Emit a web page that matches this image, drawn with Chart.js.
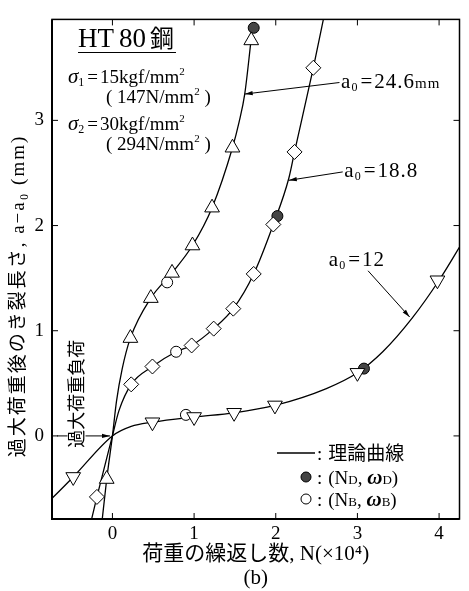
<!DOCTYPE html>
<html lang="ja">
<head>
<meta charset="utf-8">
<title>HT80鋼 過大荷重後のき裂長さ</title>
<script src="https://cdn.jsdelivr.net/npm/chart.js@4.4.0/dist/chart.umd.min.js"></script>
<style>
  html, body { margin: 0; padding: 0; background: #fff; }
</style>
</head>
<body>
<canvas id="crackChart" width="469" height="591"></canvas>
<script>
// Graduations des axes
const xTicks = [0, 1, 2, 3, 4];
const yTicks = [0, 1, 2, 3];

// Points mesurés : N (x10^4 cycles) et a - a0 (mm)
const triUpN = [-0.07, 0.22, 0.47, 0.73, 0.98, 1.22, 1.47, 1.70];
const triUpA = [-0.41, 0.93, 1.31, 1.55, 1.81, 2.17, 2.74, 3.76];
const diamondN = [-0.19, 0.23, 0.49, 0.97, 1.24, 1.48, 1.73, 1.97, 2.23, 2.46];
const diamondA = [-0.58, 0.49, 0.66, 0.86, 1.02, 1.21, 1.54, 2.01, 2.70, 3.50];
const triDownN = [-0.48, 0.49, 1.00, 1.49, 1.99, 3.00, 3.98];
const triDownA = [-0.39, 0.13, 0.18, 0.22, 0.29, 0.60, 1.48];
const openN = [0.67, 0.78, 0.90];     // (NB, ωB)
const openA = [1.46, 0.80, 0.20];
const filledN = [1.73, 2.02, 3.08];   // (ND, ωD)
const filledA = [3.88, 2.09, 0.64];

// Courbes théoriques
const curve246N = [-0.14, -0.07, 0, 0.05, 0.12, 0.22, 0.47, 0.73, 0.98, 1.22, 1.47, 1.55, 1.62, 1.70];
const curve246A = [-0.90, -0.41, 0, 0.33, 0.64, 0.93, 1.31, 1.55, 1.81, 2.17, 2.74, 2.98, 3.25, 3.78];
const curve188N = [-0.27, -0.19, 0, 0.08, 0.23, 0.49, 0.78, 0.97, 1.24, 1.48, 1.73, 1.97, 2.16, 2.23, 2.46, 2.62];
const curve188A = [-0.84, -0.58, 0, 0.24, 0.49, 0.66, 0.80, 0.86, 1.02, 1.21, 1.54, 2.01, 2.45, 2.70, 3.50, 4.10];
const curve12N = [-0.85, -0.48, 0, 0.23, 0.49, 1.00, 1.49, 1.99, 2.62, 3.00, 3.31, 3.67, 4.00, 4.30];
const curve12A = [-0.68, -0.39, 0, 0.09, 0.13, 0.18, 0.22, 0.29, 0.45, 0.60, 0.80, 1.12, 1.48, 1.86];

const SERIF = '"Liberation Serif", "Noto Sans CJK JP", serif';
const CJK = '"Noto Sans CJK JP", sans-serif';

function toPoints(xs, ys) {
  return xs.map((v, i) => ({ x: v, y: ys[i] }));
}

// Texte avec indices / exposants
function drawRich(ctx, x, y, parts) {
  let cx = x;
  parts.forEach(p => {
    ctx.font = (p.style || '') + ' ' + p.size + 'px ' + (p.family || SERIF);
    ctx.fillText(p.text, cx, y + (p.dy || 0));
    cx += ctx.measureText(p.text).width + (p.gap || 0);
  });
  return cx;
}

function arrow(ctx, x1, y1, x2, y2) {
  ctx.beginPath();
  ctx.moveTo(x1, y1);
  ctx.lineTo(x2, y2);
  ctx.stroke();
  const ang = Math.atan2(y2 - y1, x2 - x1);
  const L = 8, W = 2.2;
  ctx.beginPath();
  ctx.moveTo(x2, y2);
  ctx.lineTo(x2 - L * Math.cos(ang) + W * Math.sin(ang), y2 - L * Math.sin(ang) - W * Math.cos(ang));
  ctx.lineTo(x2 - L * Math.cos(ang) - W * Math.sin(ang), y2 - L * Math.sin(ang) + W * Math.cos(ang));
  ctx.closePath();
  ctx.fill();
}

function a0Label(ctx, x, y, value, unit) {
  ctx.letterSpacing = '1px';
  drawRich(ctx, x, y, [
    { text: 'a', size: 21 },
    { text: '0', size: 12, dy: 3, gap: 2 },
    { text: '=', size: 21, gap: 1 },
    { text: value, size: 21 },
    { text: unit || '', size: 15 }
  ]);
  ctx.letterSpacing = '0px';
}

// Cadre, graduations intérieures et annotations
const decorPlugin = {
  id: 'decor',
  afterDraw(chart) {
    const { ctx, chartArea: area, scales: { x, y } } = chart;
    const px = v => x.getPixelForValue(v);
    const py = v => y.getPixelForValue(v);
    ctx.save();
    ctx.strokeStyle = '#000';
    ctx.fillStyle = '#000';

    // cadre
    ctx.lineWidth = 1.5;
    ctx.strokeRect(area.left, area.top, area.right - area.left, area.bottom - area.top);
    ctx.lineWidth = 2;
    ctx.beginPath();
    ctx.moveTo(area.left, area.top);
    ctx.lineTo(area.left, area.bottom);
    ctx.lineTo(area.right, area.bottom);
    ctx.stroke();

    // graduations vers l'intérieur
    ctx.lineWidth = 1;
    ctx.beginPath();
    xTicks.forEach(v => {
      ctx.moveTo(px(v), area.bottom); ctx.lineTo(px(v), area.bottom - 6);
      ctx.moveTo(px(v), area.top); ctx.lineTo(px(v), area.top + 6);
    });
    yTicks.forEach(v => {
      ctx.moveTo(area.left, py(v)); ctx.lineTo(area.left + 6, py(v));
      ctx.moveTo(area.right, py(v)); ctx.lineTo(area.right - 6, py(v));
    });
    ctx.stroke();

    // titre de l'axe vertical
    ctx.save();
    ctx.translate(19, 296);
    ctx.rotate(-Math.PI / 2);
    ctx.textAlign = 'center';
    ctx.textBaseline = 'middle';
    ctx.font = '19px ' + SERIF;
    ctx.letterSpacing = '2px';
    ctx.fillText('過大荷重後のき裂長さ, a−a₀ (mm)', 0, 0);
    ctx.restore();

    // titre du matériau
    ctx.textBaseline = 'alphabetic';
    ctx.textAlign = 'left';
    const endTitle = drawRich(ctx, 78, 47, [
      { text: 'HT', size: 27, gap: 5 },
      { text: '80', size: 27, gap: 4 },
      { text: '鋼', size: 24, family: CJK }
    ]);
    ctx.lineWidth = 1;
    ctx.beginPath();
    ctx.moveTo(78, 52.5);
    ctx.lineTo(endTitle + 2, 52.5);
    ctx.stroke();

    // contraintes
    drawRich(ctx, 68, 83, [
      { text: 'σ', size: 21, style: 'italic' },
      { text: '1', size: 12, dy: 3, gap: 3 },
      { text: '=', size: 19, gap: 2 },
      { text: '15kgf/mm', size: 19 },
      { text: '2', size: 11, dy: -8 }
    ]);
    drawRich(ctx, 106, 103, [
      { text: '( ', size: 19 },
      { text: '147N/mm', size: 19 },
      { text: '2', size: 11, dy: -8 },
      { text: ' )', size: 19 }
    ]);
    drawRich(ctx, 68, 130, [
      { text: 'σ', size: 21, style: 'italic' },
      { text: '2', size: 12, dy: 3, gap: 3 },
      { text: '=', size: 19, gap: 2 },
      { text: '30kgf/mm', size: 19 },
      { text: '2', size: 11, dy: -8 }
    ]);
    drawRich(ctx, 106, 150, [
      { text: '( ', size: 19 },
      { text: '294N/mm', size: 19 },
      { text: '2', size: 11, dy: -8 },
      { text: ' )', size: 19 }
    ]);

    // étiquettes a0 avec flèches
    ctx.lineWidth = 1;
    a0Label(ctx, px(2.80), py(3.31), '24.6', 'mm');
    arrow(ctx, px(2.78), py(3.36), px(1.62), py(3.25));
    a0Label(ctx, px(2.84), py(2.46), '18.8');
    arrow(ctx, px(2.82), py(2.51), px(2.16), py(2.43));
    a0Label(ctx, px(2.65), py(1.62), '12');
    arrow(ctx, px(3.13), py(1.57), px(3.64), py(1.13));

    // repère de surcharge
    arrow(ctx, area.left + 5, py(0), px(-0.03), py(0));
    ctx.save();
    ctx.translate(px(-0.44), py(0.40));
    ctx.rotate(-Math.PI / 2);
    ctx.font = '18px ' + CJK;
    const t = '過大荷重負荷';
    const w = ctx.measureText(t).width;
    ctx.fillStyle = '#fff';
    ctx.fillRect(-w / 2 - 1, -9, w + 2, 18);
    ctx.fillStyle = '#000';
    ctx.textAlign = 'center';
    ctx.textBaseline = 'middle';
    ctx.fillText(t, 0, 0);
    ctx.restore();

    // légende
    ctx.textAlign = 'left';
    ctx.textBaseline = 'alphabetic';
    ctx.lineWidth = 1.3;
    ctx.beginPath();
    ctx.moveTo(277, 453);
    ctx.lineTo(315, 453);
    ctx.stroke();
    drawRich(ctx, 317, 460, [
      { text: ':', size: 19, gap: 6 },
      { text: '理論曲線', size: 19, family: CJK }
    ]);
    ctx.lineWidth = 1;
    ctx.beginPath();
    ctx.arc(306, 477, 5, 0, Math.PI * 2);
    ctx.fillStyle = '#444';
    ctx.fill();
    ctx.stroke();
    ctx.fillStyle = '#000';
    drawRich(ctx, 317, 484, [
      { text: ':', size: 19, gap: 6 },
      { text: '(N', size: 19 },
      { text: 'D', size: 13 },
      { text: ', ', size: 19 },
      { text: 'ω', size: 21, style: 'italic bold' },
      { text: 'D', size: 13 },
      { text: ')', size: 19 }
    ]);
    ctx.beginPath();
    ctx.arc(306, 499, 5, 0, Math.PI * 2);
    ctx.stroke();
    drawRich(ctx, 317, 506, [
      { text: ':', size: 19, gap: 6 },
      { text: '(N', size: 19 },
      { text: 'B', size: 13 },
      { text: ', ', size: 19 },
      { text: 'ω', size: 21, style: 'italic bold' },
      { text: 'B', size: 13 },
      { text: ')', size: 19 }
    ]);
    ctx.restore();
  }
};

const lineStyle = {
  type: 'line',
  showLine: true,
  borderColor: '#000',
  borderWidth: 1.3,
  pointRadius: 0,
  fill: false,
  cubicInterpolationMode: 'monotone',
  order: 5
};
const markStyle = {
  showLine: false,
  borderColor: '#000',
  borderWidth: 1,
  backgroundColor: '#fff',
  order: 1
};

new Chart(document.getElementById('crackChart'), {
  type: 'scatter',
  data: {
    datasets: [
      { ...markStyle, label: 'a0=24.6', data: toPoints(triUpN, triUpA), pointStyle: 'triangle', pointRadius: 8.5 },
      { ...markStyle, label: 'a0=18.8', data: toPoints(diamondN, diamondA), pointStyle: 'rectRot', pointRadius: 7.5 },
      { ...markStyle, label: 'a0=12', data: toPoints(triDownN, triDownA), pointStyle: 'triangle', pointRotation: 180, pointRadius: 8.5 },
      { ...markStyle, label: '(NB, ωB)', data: toPoints(openN, openA), pointStyle: 'circle', pointRadius: 5.5 },
      { ...markStyle, label: '(ND, ωD)', data: toPoints(filledN, filledA), pointStyle: 'circle', pointRadius: 5.5, backgroundColor: '#444' },
      { ...lineStyle, label: '理論曲線 24.6', data: toPoints(curve246N, curve246A) },
      { ...lineStyle, label: '理論曲線 18.8', data: toPoints(curve188N, curve188A) },
      { ...lineStyle, label: '理論曲線 12', data: toPoints(curve12N, curve12A) }
    ]
  },
  options: {
    responsive: false,
    animation: false,
    layout: { padding: { left: 0, top: 12, right: 4, bottom: 0 } },
    plugins: {
      legend: { display: false },
      tooltip: { enabled: false }
    },
    scales: {
      x: {
        type: 'linear',
        min: -0.74,
        max: 4.25,
        afterBuildTicks: scale => { scale.ticks = xTicks.map(v => ({ value: v })); },
        afterFit: scale => { scale.height = 72; },
        grid: { display: false, drawTicks: false },
        border: { display: false },
        ticks: { color: '#000', padding: 4, font: { family: SERIF, size: 19 } },
        title: {
          display: true,
          text: ['荷重の繰返し数, N(×10⁴)', '(b)'],
          color: '#000',
          padding: { top: 0, bottom: 0 },
          font: { family: SERIF, size: 21, lineHeight: 1.15 }
        }
      },
      y: {
        type: 'linear',
        min: -0.79,
        max: 3.96,
        afterBuildTicks: scale => { scale.ticks = yTicks.map(v => ({ value: v })); },
        afterFit: scale => { scale.width = 52; },
        grid: { display: false, drawTicks: false },
        border: { display: false },
        ticks: { color: '#000', padding: 8, font: { family: SERIF, size: 19 } },
        title: { display: false }
      }
    }
  },
  plugins: [decorPlugin]
});
</script>
</body>
</html>
